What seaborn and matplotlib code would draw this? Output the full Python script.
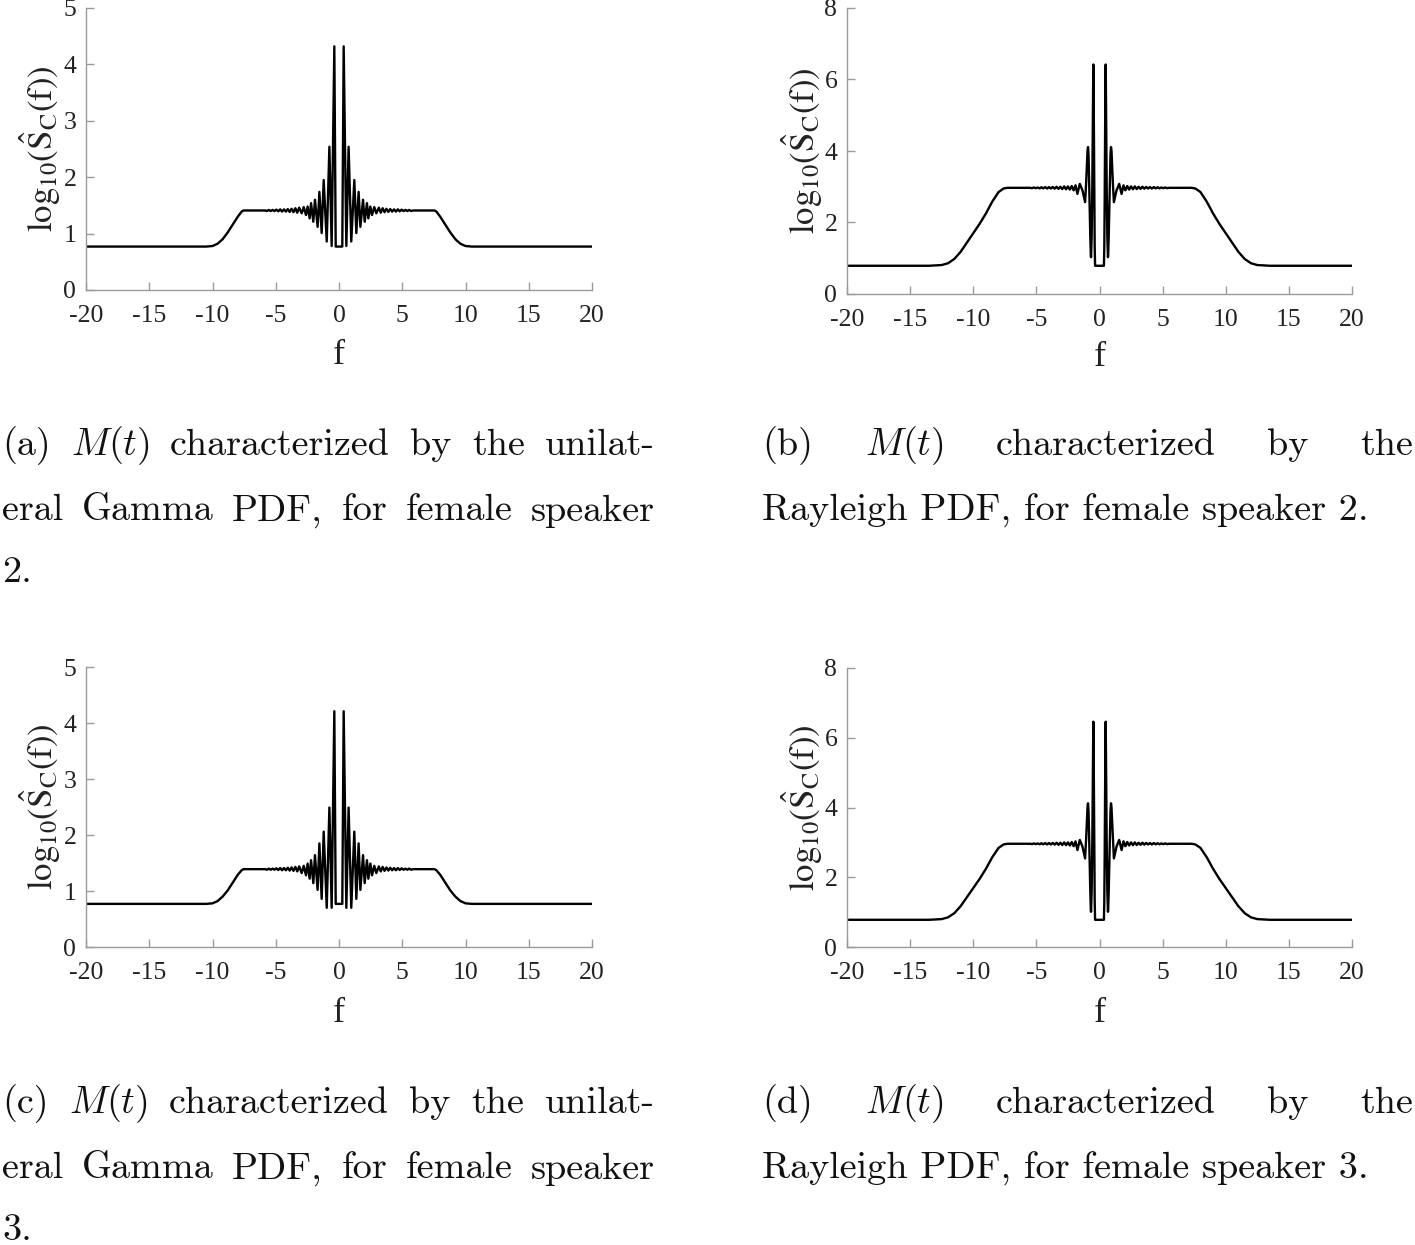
import matplotlib
matplotlib.use("Agg")
import matplotlib.pyplot as plt
import seaborn as sns

# frequency grid and log10 spectra
f_gamma = [-20, -10.5, -10.0, -9.6, -9.2, -8.8, -8.4, -8.0, -7.7, -7.55, -7.0, -6.5, -6.0, -5.85,
           -5.7, -5.55, -5.4, -5.25, -5.1, -4.95, -4.8, -4.65, -4.5, -4.35, -4.2, -4.05, -3.9, -3.75,
           -3.6, -3.45, -3.3, -3.15,
           -2.95, -2.79, -2.61, -2.48, -2.32, -2.21, -2.03, -1.90, -1.69, -1.55, -1.37, -1.21, -0.97,
           -0.76, -0.58, -0.37, -0.26,
           0.26, 0.37, 0.58, 0.76, 0.97, 1.21, 1.37, 1.55, 1.69, 1.90, 2.03, 2.21, 2.32, 2.48, 2.61,
           2.79, 2.95,
           3.15, 3.3, 3.45, 3.6, 3.75, 3.9, 4.05, 4.2, 4.35, 4.5, 4.65, 4.8, 4.95, 5.1, 5.25, 5.4,
           5.55, 5.7,
           5.85, 6.0, 6.5, 7.0, 7.55, 7.7, 8.0, 8.4, 8.8, 9.2, 9.6, 10.0, 10.5, 20]

y_gamma_sp2 = [0.77, 0.77, 0.78, 0.82, 0.90, 1.02, 1.16, 1.30, 1.39, 1.41, 1.41, 1.41, 1.41, 1.41,
               1.40, 1.42, 1.40, 1.42, 1.40, 1.425, 1.395, 1.43, 1.39, 1.43, 1.39, 1.435, 1.385, 1.44,
               1.38, 1.45, 1.37, 1.46,
               1.36, 1.47, 1.33, 1.48, 1.27, 1.54, 1.21, 1.60, 1.12, 1.74, 1.01, 1.95, 0.86,
               2.54, 0.78, 4.32, 0.77,
               0.77, 4.32, 0.78, 2.54, 0.86, 1.95, 1.01, 1.74, 1.12, 1.60, 1.21, 1.54, 1.27, 1.48, 1.33,
               1.47, 1.36,
               1.46, 1.37, 1.45, 1.38, 1.44, 1.385, 1.435, 1.39, 1.43, 1.39, 1.43, 1.395, 1.425, 1.40,
               1.42, 1.40, 1.42, 1.40,
               1.41, 1.41, 1.41, 1.41, 1.41, 1.39, 1.30, 1.16, 1.02, 0.90, 0.82, 0.78, 0.77, 0.77]

y_gamma_sp3 = [0.77, 0.77, 0.78, 0.82, 0.90, 1.01, 1.15, 1.29, 1.37, 1.39, 1.39, 1.39, 1.39, 1.39,
               1.38, 1.40, 1.38, 1.40, 1.38, 1.405, 1.375, 1.41, 1.37, 1.41, 1.37, 1.415, 1.365, 1.42,
               1.36, 1.43, 1.35, 1.44,
               1.32, 1.45, 1.28, 1.49, 1.22, 1.55, 1.14, 1.64, 1.02, 1.85, 0.86, 2.06, 0.70,
               2.49, 0.70, 4.21, 0.77,
               0.77, 4.21, 0.70, 2.49, 0.70, 2.06, 0.86, 1.85, 1.02, 1.64, 1.14, 1.55, 1.22, 1.49, 1.28,
               1.45, 1.32,
               1.44, 1.35, 1.43, 1.36, 1.42, 1.365, 1.415, 1.37, 1.41, 1.37, 1.41, 1.375, 1.405, 1.38,
               1.40, 1.38, 1.40, 1.38,
               1.39, 1.39, 1.39, 1.39, 1.39, 1.37, 1.29, 1.15, 1.01, 0.90, 0.82, 0.78, 0.77, 0.77]

f_rayleigh = [-20, -13.5, -12.5, -12.0, -11.5, -11.0, -10.5, -10.0, -9.5, -9.0, -8.5, -8.0, -7.6, -7.3,
              -6.5, -6.0, -5.5,
              -5.35, -5.2, -5.05, -4.9, -4.75, -4.6, -4.45, -4.3, -4.15, -4.0, -3.85, -3.7, -3.55,
              -3.4, -3.25, -3.1, -2.95, -2.8, -2.65, -2.5, -2.35,
              -2.2, -2.05, -1.9, -1.75, -1.56, -1.35, -1.14,
              -1.06, -1.0, -0.95, -0.91, -0.87, -0.83, -0.78, -0.73, -0.69, -0.67,
              -0.62, -0.57, -0.53, -0.5, -0.49, -0.47, -0.44, -0.41, -0.38, -0.35,
              0.35, 0.38, 0.41, 0.44, 0.47, 0.49, 0.5, 0.53, 0.57, 0.62,
              0.67, 0.69, 0.73, 0.78, 0.83, 0.87, 0.91, 0.95, 1.0, 1.06,
              1.14, 1.35, 1.56, 1.75, 1.9, 2.05, 2.2,
              2.35, 2.5, 2.65, 2.8, 2.95, 3.1, 3.25, 3.4, 3.55, 3.7, 3.85, 4.0, 4.15, 4.3, 4.45,
              4.6, 4.75, 4.9, 5.05, 5.2, 5.35,
              5.5, 6.0, 6.5, 7.3, 7.6, 8.0, 8.5, 9.0, 9.5, 10.0, 10.5, 11.0, 11.5, 12.0, 12.5, 13.5, 20]

y_rayleigh_sp2 = [0.79, 0.79, 0.81, 0.86, 0.98, 1.18, 1.44, 1.70, 1.96, 2.25, 2.58, 2.85, 2.95, 2.97,
                  2.97, 2.97, 2.97,
                  2.96, 2.98, 2.96, 2.98, 2.955, 2.985, 2.955, 2.99, 2.95, 2.99, 2.95, 2.995, 2.945,
                  3.0, 2.94, 3.0, 2.935, 3.01, 2.93, 3.01, 2.92,
                  3.02, 2.90, 3.04, 2.80, 3.08, 2.90, 2.57,
                  3.10, 3.60, 4.00, 4.11, 3.90, 3.30, 2.40, 1.60, 1.12, 1.03,
                  1.60, 3.00, 4.80, 6.10, 6.42, 6.00, 4.50, 2.60, 1.30, 0.79,
                  0.79, 1.30, 2.60, 4.50, 6.00, 6.42, 6.10, 4.80, 3.00, 1.60,
                  1.03, 1.12, 1.60, 2.40, 3.30, 3.90, 4.11, 4.00, 3.60, 3.10,
                  2.57, 2.90, 3.08, 2.80, 3.04, 2.90, 3.02,
                  2.92, 3.01, 2.93, 3.01, 2.935, 3.0, 2.94, 3.0, 2.945, 2.995, 2.95, 2.99, 2.95, 2.99,
                  2.955, 2.985, 2.955, 2.98, 2.96, 2.98, 2.96,
                  2.97, 2.97, 2.97, 2.97, 2.95, 2.85, 2.58, 2.25, 1.96, 1.70, 1.44, 1.18, 0.98, 0.86,
                  0.81, 0.79, 0.79]

y_rayleigh_sp3 = [0.78, 0.78, 0.80, 0.85, 0.97, 1.17, 1.43, 1.69, 1.95, 2.24, 2.57, 2.84, 2.94, 2.96,
                  2.96, 2.96, 2.96,
                  2.95, 2.97, 2.95, 2.97, 2.945, 2.975, 2.945, 2.98, 2.94, 2.98, 2.94, 2.985, 2.935,
                  2.99, 2.93, 2.99, 2.925, 3.0, 2.92, 3.0, 2.91,
                  3.01, 2.89, 3.03, 2.78, 3.07, 2.88, 2.54,
                  3.10, 3.60, 4.00, 4.12, 3.90, 3.30, 2.40, 1.60, 1.10, 1.01,
                  1.60, 3.00, 4.80, 6.10, 6.46, 6.00, 4.50, 2.60, 1.30, 0.78,
                  0.78, 1.30, 2.60, 4.50, 6.00, 6.46, 6.10, 4.80, 3.00, 1.60,
                  1.01, 1.10, 1.60, 2.40, 3.30, 3.90, 4.12, 4.00, 3.60, 3.10,
                  2.54, 2.88, 3.07, 2.78, 3.03, 2.89, 3.01,
                  2.91, 3.0, 2.92, 3.0, 2.925, 2.99, 2.93, 2.99, 2.935, 2.985, 2.94, 2.98, 2.94, 2.98,
                  2.945, 2.975, 2.945, 2.97, 2.95, 2.97, 2.95,
                  2.96, 2.96, 2.96, 2.96, 2.94, 2.84, 2.57, 2.24, 1.95, 1.69, 1.43, 1.17, 0.97, 0.85,
                  0.80, 0.78, 0.78]

x_ticks = [-20, -15, -10, -5, 0, 5, 10, 15, 20]
y_ticks_gamma = [0, 1, 2, 3, 4, 5]
y_ticks_rayleigh = [0, 2, 4, 6, 8]

captions = {
    "a": [["(a)", "$M(t)$", "characterized", "by", "the", "unilat-"],
          ["eral", "Gamma", "PDF,", "for", "female", "speaker"],
          ["2."]],
    "b": [["(b)", "$M(t)$", "characterized", "by", "the"],
          ["Rayleigh PDF, for female speaker 2."]],
    "c": [["(c)", "$M(t)$", "characterized", "by", "the", "unilat-"],
          ["eral", "Gamma", "PDF,", "for", "female", "speaker"],
          ["3."]],
    "d": [["(d)", "$M(t)$", "characterized", "by", "the"],
          ["Rayleigh PDF, for female speaker 3."]],
}

W, H = 1415, 1245
sns.set_style("white")
plt.rcParams["font.family"] = ["Liberation Serif", "DejaVu Serif"]
plt.rcParams["axes.unicode_minus"] = False

fig = plt.figure(figsize=(W / 100, H / 100), dpi=100)
GRAY = "#9a9a9a"


def add_ax(left, right, top, bottom):
    return fig.add_axes([left / W, 1 - bottom / H, (right - left) / W, (bottom - top) / H])


def draw_panel(ax, f, y, ymax, yticks, xlab_y, ylab_x):
    sns.lineplot(x=f, y=y, ax=ax, color="black", linewidth=1.7, sort=False, estimator=None)
    ax.set_xlim(-20, 20)
    ax.set_ylim(0, ymax)
    ax.set_xticks(x_ticks)
    ax.set_yticks(yticks)
    for s in ["top", "right"]:
        ax.spines[s].set_visible(False)
    for s in ["left", "bottom"]:
        ax.spines[s].set_color(GRAY)
        ax.spines[s].set_linewidth(1.0)
    ax.tick_params(bottom=True, left=True, direction="in", length=6, width=1, color=GRAY,
                   labelsize=18.5, labelcolor="#222222")
    ax.tick_params(axis="x", pad=11)
    ax.tick_params(axis="y", pad=7)
    ax.set_xlabel("f", fontsize=26, color="#222222", va="top")
    ax.xaxis.set_label_coords(0.5, xlab_y)
    ax.set_ylabel(r"$\mathrm{log_{10}(\hat{S}_{C}(f))}$", fontsize=25, color="#222222",
                  math_fontfamily="stix")
    ax.yaxis.set_label_coords(ylab_x, 0.5)


ax_a = add_ax(86, 592, 8, 290)
ax_b = add_ax(847, 1352, 8, 294)
ax_c = add_ax(86, 592, 667, 947)
ax_d = add_ax(847, 1352, 668, 947)

draw_panel(ax_a, f_gamma, y_gamma_sp2, 5, y_ticks_gamma, -0.175, -0.045)
draw_panel(ax_b, f_rayleigh, y_rayleigh_sp2, 8, y_ticks_rayleigh, -0.163, -0.043)
draw_panel(ax_c, f_gamma, y_gamma_sp3, 5, y_ticks_gamma, -0.18, -0.045)
draw_panel(ax_d, f_rayleigh, y_rayleigh_sp3, 8, y_ticks_rayleigh, -0.18, -0.043)

renderer = fig.canvas.get_renderer()
CAP = 27.5


def caption_line(words, x0, base, x1=None):
    texts = [fig.text(x0 / W, 1 - base / H, w, fontsize=CAP, family="cmr10",
                      math_fontfamily="cm", va="baseline", ha="left", color="#111111")
             for w in words]
    if x1 is None or len(texts) == 1:
        return
    widths = [t.get_window_extent(renderer).width for t in texts]
    gap = (x1 - x0 - sum(widths)) / (len(texts) - 1)
    x = x0
    for t, w in zip(texts, widths):
        t.set_x(x / W)
        x += w + gap


for key, x0, x1, base0 in [("a", 2, 655, 455), ("b", 762, 1413, 455),
                           ("c", 2, 655, 1113), ("d", 762, 1413, 1113)]:
    lines = captions[key]
    for i, words in enumerate(lines):
        last = i == len(lines) - 1
        step = 65.5 if i < 2 else 62
        base = base0 + 65.5 * min(i, 1) + (step if i == 2 else 0)
        caption_line(words, x0, base, None if last else x1)

fig.savefig("out.png", dpi=100)
